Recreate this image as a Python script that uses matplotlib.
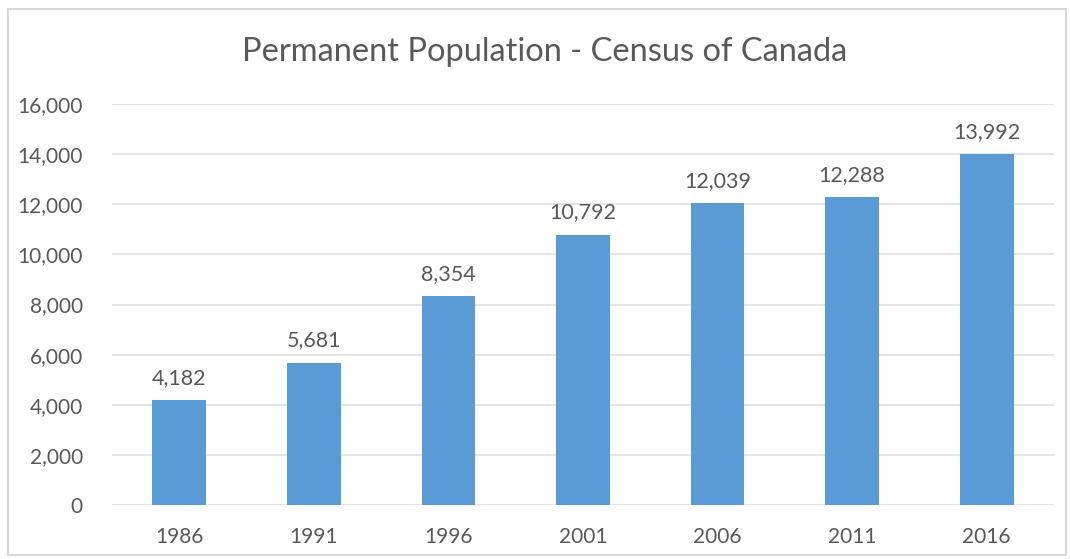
import matplotlib.pyplot as plt
from matplotlib.patches import Rectangle
from matplotlib.ticker import FuncFormatter

# Census years and permanent population counts
years = ['1986', '1991', '1996', '2001', '2006', '2011', '2016']
population = [4182, 5681, 8354, 10792, 12039, 12288, 13992]

plt.rcParams['font.family'] = ['Lato', 'DejaVu Sans']
text_grey = '#595959'
bar_blue = '#5B9BD5'

fig = plt.figure(figsize=(10.7, 5.59), dpi=100)
ax = fig.add_axes([112 / 1070, 54 / 559, 942 / 1070, 401 / 559])

# chart frame
fig.patches.append(Rectangle((8 / 1070, 4 / 559), 1058 / 1070, 546 / 559,
                             transform=fig.transFigure, fill=False,
                             edgecolor='#d9d9d9', linewidth=1.5))

x = range(len(years))
bars = ax.bar(x, population, width=0.4, color=bar_blue, zorder=3)
for xi, val in zip(x, population):
    ax.text(xi, val + 480, f'{val:,}', ha='center', va='bottom',
            fontsize=15.5, color=text_grey)

ax.set_xlim(-0.5, len(years) - 0.5)
ax.set_ylim(0, 16000)
ax.set_yticks(range(0, 16001, 2000))
ax.yaxis.set_major_formatter(FuncFormatter(lambda v, p: f'{int(v):,}'))
ax.set_xticks(list(x))
ax.set_xticklabels(years)
ax.tick_params(length=0, labelsize=15, labelcolor=text_grey)
ax.tick_params(axis='y', pad=21)
ax.tick_params(axis='x', pad=16)
ax.grid(axis='y', color='#e3e3e3', linewidth=1.3, zorder=0)
for s in ax.spines.values():
    s.set_visible(False)

fig.text(545 / 1070, 1 - 52 / 559, 'Permanent Population - Census of Canada',
         ha='center', va='center', fontsize=23.5, color=text_grey)

fig.savefig('out.png', dpi=100)
